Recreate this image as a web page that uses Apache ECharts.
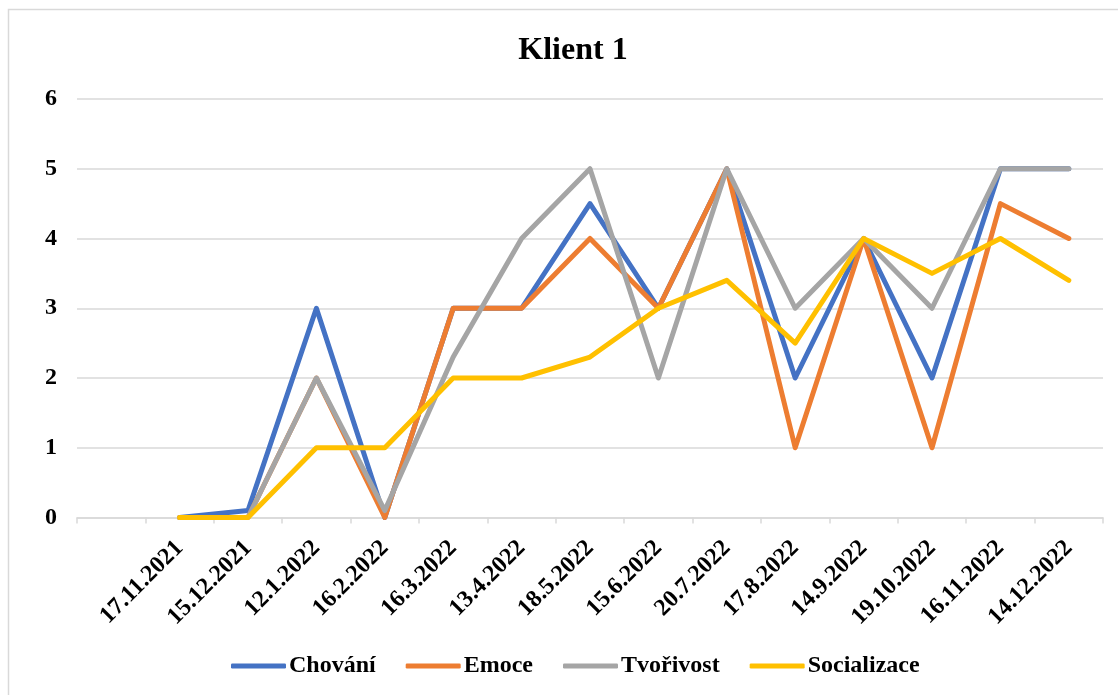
<!DOCTYPE html>
<html>
<head>
<meta charset="utf-8">
<script src="https://cdn.jsdelivr.net/npm/echarts@6/dist/echarts.min.js"></script>
<style>
html,body{margin:0;padding:0;background:#fff;}
#c{width:1118px;height:695px;}
</style>
</head>
<body>
<div id="c"></div>
<script>
const categories = ['', '17.11.2021','15.12.2021','12.1.2022','16.2.2022','16.3.2022','13.4.2022','18.5.2022','15.6.2022','20.7.2022','17.8.2022','14.9.2022','19.10.2022','16.11.2022','14.12.2022'];
const chovani =      [null, 0, 0.1, 3, 0,   3,   3, 4.5, 3, 5,   2,   4, 2,   5,   5];
const emoce =        [null, 0, 0,   2, 0,   3,   3, 4,   3, 5,   1,   4, 1,   4.5, 4];
const tvorivost =    [null, 0, 0,   2, 0.1, 2.3, 4, 5,   2, 5,   3,   4, 3,   5,   5];
const socializace =  [null, 0, 0,   1, 1,   2,   2, 2.3, 3, 3.4, 2.5, 4, 3.5, 4,   3.4];
const seriesNames = ['Chování','Emoce','Tvořivost','Socializace'];
const colors = ['#4472C4','#ED7D31','#A5A5A5','#FFC000'];
const yTicks = [0,1,2,3,4,5,6];

const font = 'Liberation Serif, Times New Roman, serif';
const chart = echarts.init(document.getElementById('c'), null, {renderer:'canvas'});
const dataSets = [chovani, emoce, tvorivost, socializace];
chart.setOption({
  animation:false,
  backgroundColor:'#fff',
  graphic:[{type:'rect', shape:{x:8.5,y:9.5,width:1130,height:700}, style:{fill:'none', stroke:'#d9d9d9', lineWidth:1.5}, silent:true}],
  title:{text:'Klient 1', left:568, textAlign:'center', top:30, textStyle:{fontFamily:font, fontWeight:'bold', fontSize:32, color:'#000'}},
  legend:{bottom:12, left:226, itemWidth:55, itemHeight:5, itemGap:30, icon:'roundRect',
    data:seriesNames,
    textStyle:{fontFamily:font, fontWeight:'bold', fontSize:24, color:'#000', padding:[0,0,0,-2]}},
  grid:{left:77, right:15, top:99, bottom:177.5, containLabel:false},
  xAxis:{type:'category', data:categories, boundaryGap:true,
    axisLine:{lineStyle:{color:'#d9d9d9', width:1.5}},
    axisTick:{show:true, alignWithLabel:false, length:6, lineStyle:{color:'#d9d9d9', width:1.5}},
    axisLabel:{rotate:45, interval:0, margin:27, fontFamily:font, fontWeight:'bold', fontSize:24, color:'#000'}},
  yAxis:{type:'value', min:0, max:6, interval:1,
    axisLine:{show:false}, axisTick:{show:false},
    splitLine:{lineStyle:{color:'#d9d9d9', width:1.5}},
    axisLabel:{margin:20, fontFamily:font, fontWeight:'bold', fontSize:24, color:'#000',
      formatter:(v)=> yTicks.includes(v) ? String(v) : ''}},
  series: seriesNames.map((n,i)=>({
    name:n, type:'line', data:dataSets[i], symbol:'none', showSymbol:false,
    color:colors[i],
    lineStyle:{color:colors[i], width:5, cap:'round', join:'round'},
    itemStyle:{color:colors[i]}
  }))
});
</script>
</body>
</html>
